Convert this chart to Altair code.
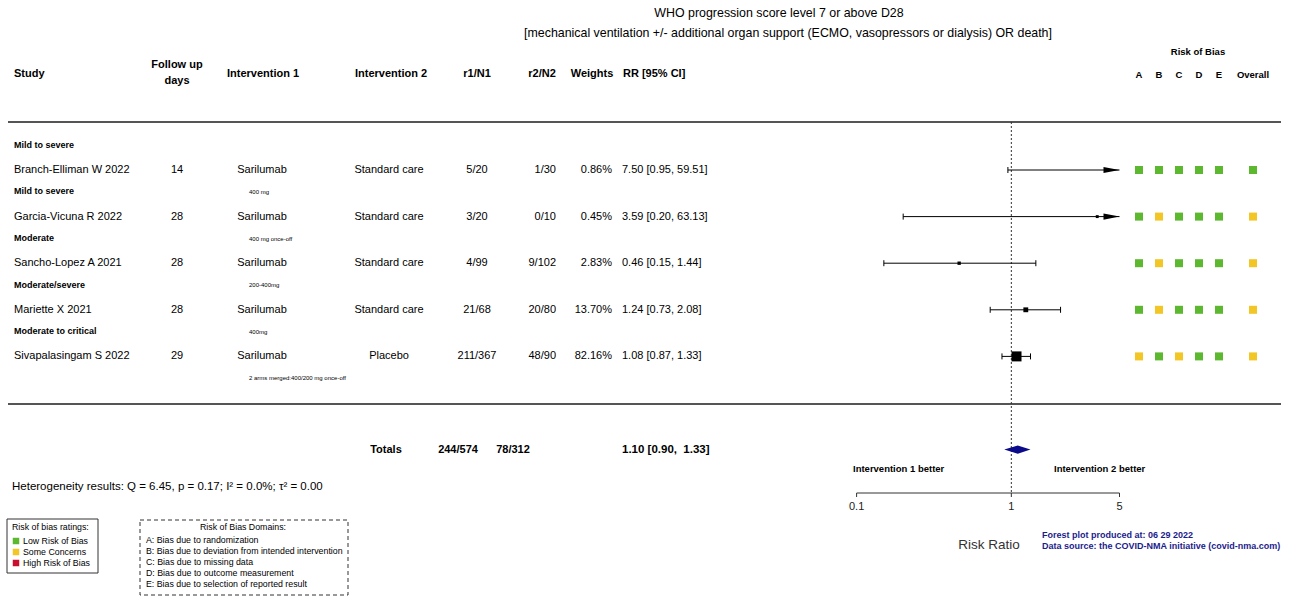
import altair as alt
import pandas as pd

FONT = "Liberation Sans"

# ---- study-level data -------------------------------------------------------
studies = ["Branch-Elliman W 2022", "Garcia-Vicuna R 2022", "Sancho-Lopez A 2021",
           "Mariette X 2021", "Sivapalasingam S 2022"]
severity = ["Mild to severe", "Mild to severe", "Moderate", "Moderate/severe",
            "Moderate to critical"]
follow_up = [14, 28, 28, 28, 29]
intervention1 = ["Sarilumab", "Sarilumab", "Sarilumab", "Sarilumab", "Sarilumab"]
dose = ["400 mg", "400 mg once-off", "200-400mg", "400mg",
        "2 arms merged:400/200 mg once-off"]
intervention2 = ["Standard care", "Standard care", "Standard care", "Standard care", "Placebo"]
r1_n1 = ["5/20", "3/20", "4/99", "21/68", "211/367"]
r2_n2 = ["1/30", "0/10", "9/102", "20/80", "48/90"]
weights = [0.86, 0.45, 2.83, 13.70, 82.16]
rr = [7.50, 3.59, 0.46, 1.24, 1.08]
ci_low = [0.95, 0.20, 0.15, 0.73, 0.87]
ci_high = [59.51, 63.13, 1.44, 2.08, 1.33]

rob_domains = ["A", "B", "C", "D", "E"]
rob_ratings = [
    ["Low", "Low", "Low", "Low", "Low"],
    ["Low", "Some concerns", "Low", "Low", "Low"],
    ["Low", "Some concerns", "Low", "Low", "Low"],
    ["Low", "Some concerns", "Low", "Low", "Low"],
    ["Some concerns", "Low", "Some concerns", "Low", "Low"],
]
rob_overall = ["Low", "Some concerns", "Some concerns", "Some concerns", "Some concerns"]

# pooled result
total_r1 = "244/574"
total_r2 = "78/312"
pooled_rr = 1.10
pooled_low = 0.90
pooled_high = 1.33

axis_ticks = [0.1, 1, 5]
AXIS_MIN, AXIS_MAX = 0.1, 5

rob_levels = ["Low", "Some concerns", "High"]
rob_colors = ["#5cb82e", "#f2c624", "#c8102e"]

# ---- tables -----------------------------------------------------------------
rows = pd.DataFrame({
    "row": list(range(len(studies))),
    "study": studies,
    "severity": severity,
    "follow": [str(v) for v in follow_up],
    "int1": intervention1,
    "dose": dose,
    "int2": intervention2,
    "r1": r1_n1,
    "r2": r2_n2,
    "weight": weights,
    "wlabel": [f"{w:.2f}%" for w in weights],
    "rr": rr,
    "lo": ci_low,
    "hi": ci_high,
    "rrlabel": [f"{e:.2f} [{l:.2f}, {h:.2f}]" for e, l, h in zip(rr, ci_low, ci_high)],
})
rows["hi_shown"] = rows["hi"].clip(upper=AXIS_MAX)
rows["sev_row"] = rows["row"] - 0.54
rows["dose_row"] = rows["row"] + 0.47

rob_long = pd.DataFrame([
    {"row": i, "domain": d, "rating": r}
    for i, ratings in enumerate(rob_ratings)
    for d, r in zip(rob_domains, ratings)
])
rob_over = pd.DataFrame({"row": list(range(len(studies))), "rating": rob_overall})

TOTAL_ROW = 6
DIAMOND_HALF = 0.09
diamond = pd.DataFrame({
    "x": [pooled_low, pooled_rr, pooled_high],
    "top": [TOTAL_ROW, TOTAL_ROW - DIAMOND_HALF, TOTAL_ROW],
    "bottom": [TOTAL_ROW, TOTAL_ROW + DIAMOND_HALF, TOTAL_ROW],
})
totals = pd.DataFrame({
    "row": [TOTAL_ROW],
    "r1": [total_r1], "r2": [total_r2],
    # non-breaking space keeps the double gap before the upper bound
    "label": [f"{pooled_rr:.2f} [{pooled_low:.2f},\u00a0 {pooled_high:.2f}]"],
})
ticks = pd.DataFrame({"t": axis_ticks, "label": [f"{t:g}" for t in axis_ticks]})
one = pd.DataFrame({"k": [0]})

# ---- scales -----------------------------------------------------------------
ysc = alt.Scale(domain=[0, 4], range=[170, 356.4], nice=False, zero=False)
xsc = alt.Scale(type="log", domain=[AXIS_MIN, AXIS_MAX], range=[856.6, 1119.5], nice=False)
Y = lambda f: alt.Y(f"{f}:Q", scale=ysc, axis=None)
X = lambda f: alt.X(f"{f}:Q", scale=xsc, axis=None)


def text_at(data, field, x, yfield, align="left", size=11, weight="normal", color="#000"):
    return alt.Chart(data).mark_text(
        align=align, baseline="middle", font=FONT, fontSize=size,
        fontWeight=weight, color=color
    ).encode(x=alt.value(x), y=Y(yfield), text=f"{field}:N")


def label(txt, x, y, align="left", size=11, weight="normal", color="#000"):
    return alt.Chart(one).mark_text(
        align=align, baseline="middle", font=FONT, fontSize=size,
        fontWeight=weight, color=color, text=txt
    ).encode(x=alt.value(x), y=alt.value(y))


def hrule(y, x1, x2, color="#555", width=2.0):
    return alt.Chart(one).mark_rule(color=color, strokeWidth=width).encode(
        x=alt.value(x1), x2=alt.value(x2), y=alt.value(y))


layers = []

# titles and headers
HDR = 11
layers += [
    label("WHO progression score level 7 or above D28", 779, 13, "center", 12.4),
    label("[mechanical ventilation +/- additional organ support (ECMO, vasopressors or dialysis) OR death]",
          788, 33, "center", 12.4),
    label("Study", 14, 74, size=HDR, weight="bold"),
    label("Follow up", 177, 65, "center", HDR, "bold"),
    label("days", 177, 81, "center", HDR, "bold"),
    label("Intervention 1", 263, 74, "center", HDR, "bold"),
    label("Intervention 2", 391, 74, "center", HDR, "bold"),
    label("r1/N1", 477, 74, "center", HDR, "bold"),
    label("r2/N2", 542, 74, "center", HDR, "bold"),
    label("Weights", 592, 74, "center", HDR, "bold"),
    label("RR [95% CI]", 623, 74, size=HDR, weight="bold"),
    label("Risk of Bias", 1198, 52, "center", 9.5, "bold"),
]
for d, xp in zip(rob_domains + ["Overall"], [1139, 1159, 1179, 1199, 1219, 1253]):
    layers.append(label(d, xp, 75, "center", 9.5, "bold"))

layers += [hrule(122, 8, 1281), hrule(404, 8, 1281)]

# study table
layers += [
    text_at(rows, "severity", 14, "sev_row", size=9, weight="bold"),
    text_at(rows, "study", 14, "row"),
    text_at(rows, "follow", 177, "row", "center"),
    text_at(rows, "int1", 262, "row", "center"),
    text_at(rows, "dose", 249, "dose_row", size=6),
    text_at(rows, "int2", 389, "row", "center"),
    text_at(rows, "r1", 477, "row", "center"),
    text_at(rows, "r2", 556, "row", "right"),
    text_at(rows, "wlabel", 612, "row", "right"),
    text_at(rows, "rrlabel", 622, "row"),
]

# totals
layers += [
    label("Totals", 386, 450, "center", 11, "bold"),
    text_at(totals, "r1", 458, "row", "center", 11, "bold"),
    text_at(totals, "r2", 513, "row", "center", 11, "bold"),
    text_at(totals, "label", 622, "row", size=11.5, weight="bold"),
    label("Heterogeneity results: Q = 6.45, p = 0.17; I² = 0.0%; τ² = 0.00", 12, 487, size=11.5),
]

# forest plot
layers += [
    alt.Chart(one).mark_rule(color="#333", strokeDash=[2, 2], strokeWidth=1).encode(
        x=alt.X("v:Q", scale=xsc, axis=None), y=alt.value(122), y2=alt.value(493)
    ).transform_calculate(v="1"),
    alt.Chart(rows).mark_rule(color="#000", strokeWidth=1).encode(
        x=X("lo"), x2="hi_shown:Q", y=Y("row")),
    alt.Chart(rows).mark_rule(color="#000", strokeWidth=1, yOffset=-3, y2Offset=3).encode(
        x=X("lo"), y=Y("row"), y2="row:Q"),
    alt.Chart(rows).transform_filter(f"datum.hi <= {AXIS_MAX}").mark_rule(
        color="#000", strokeWidth=1, yOffset=-3, y2Offset=3).encode(
        x=X("hi"), y=Y("row"), y2="row:Q"),
    alt.Chart(rows).transform_filter(f"datum.rr <= {AXIS_MAX}").mark_square(
        color="#000", opacity=1).encode(
        x=X("rr"), y=Y("row"),
        size=alt.Size("weight:Q", scale=alt.Scale(domain=[0, 82.16], range=[8, 100]), legend=None)),
    alt.Chart(rows).transform_filter(f"datum.hi > {AXIS_MAX}").mark_point(
        shape="M -1 -0.38 L 1 0 L -1 0.38 Z", size=256, filled=True, color="#000",
        opacity=1, xOffset=-8).encode(
        x=X("hi_shown"), y=Y("row")),
    alt.Chart(diamond).mark_area(color="#0a0a8a", opacity=1).encode(
        x=X("x"), y=Y("top"), y2="bottom:Q"),
    # x axis
    alt.Chart(ticks).mark_rule(color="#333").encode(
        x=alt.X("min(t):Q", scale=xsc, axis=None), x2="max(t):Q", y=alt.value(493)),
    alt.Chart(ticks).mark_rule(color="#333").encode(
        x=X("t"), y=alt.value(493), y2=alt.value(497)),
    alt.Chart(ticks).mark_text(font=FONT, fontSize=11, baseline="middle", color="#222").encode(
        x=X("t"), y=alt.value(507), text="label:N"),
    label("Intervention 1 better", 853, 469, size=9.5, weight="bold"),
    label("Intervention 2 better", 1054, 469, size=9.5, weight="bold"),
    label("Risk Ratio", 989, 545, "center", 13.5, color="#333"),
    label("Forest plot produced at: 06 29 2022", 1042, 535, size=9, weight="bold", color="#1c1c8c"),
    label("Data source: the COVID-NMA initiative (covid-nma.com)", 1042, 546, size=9,
          weight="bold", color="#1c1c8c"),
]

# risk of bias squares
layers += [
    alt.Chart(rob_long).mark_square(size=64, opacity=1).encode(
        x=alt.X("domain:N", scale=alt.Scale(type="point", domain=rob_domains,
                                            range=[1139, 1219], padding=0), axis=None),
        y=Y("row"),
        color=alt.Color("rating:N", scale=alt.Scale(domain=rob_levels, range=rob_colors), legend=None)),
    alt.Chart(rob_over).mark_square(size=64, opacity=1).encode(
        x=alt.value(1253), y=Y("row"),
        color=alt.Color("rating:N", scale=alt.Scale(domain=rob_levels, range=rob_colors), legend=None)),
]

# legend boxes
LEG = 8.8
legend_items = pd.DataFrame({"rating": rob_levels,
                             "name": ["Low Risk of Bias", "Some Concerns", "High Risk of Bias"],
                             "i": [0, 1, 2]})
item_y = alt.Y("i:Q", scale=alt.Scale(domain=[0, 2], range=[541, 563]), axis=None)
layers += [
    alt.Chart(one).mark_rect(fill=None, stroke="#333", strokeWidth=1).encode(
        x=alt.value(7), x2=alt.value(98), y=alt.value(519), y2=alt.value(573)),
    label("Risk of bias ratings:", 12, 527, size=LEG),
    alt.Chart(legend_items).mark_square(size=42, opacity=1).encode(
        x=alt.value(16), y=item_y,
        color=alt.Color("rating:N", scale=alt.Scale(domain=rob_levels, range=rob_colors), legend=None)),
    alt.Chart(legend_items).mark_text(font=FONT, fontSize=LEG, align="left", baseline="middle").encode(
        x=alt.value(23), y=item_y, text="name:N"),
    alt.Chart(one).mark_rect(fill=None, stroke="#333", strokeWidth=1, strokeDash=[4, 3]).encode(
        x=alt.value(140), x2=alt.value(348), y=alt.value(520), y2=alt.value(595)),
    label("Risk of Bias Domains:", 243, 527, "center", LEG),
]
domain_text = pd.DataFrame({
    "i": [0, 1, 2, 3, 4],
    "t": ["A: Bias due to randomization",
          "B: Bias due to deviation from intended intervention",
          "C: Bias due to missing data",
          "D: Bias due to outcome measurement",
          "E: Bias due to selection of reported result"],
})
layers.append(
    alt.Chart(domain_text).mark_text(font=FONT, fontSize=LEG, align="left", baseline="middle").encode(
        x=alt.value(146),
        y=alt.Y("i:Q", scale=alt.Scale(domain=[0, 4], range=[540, 584]), axis=None),
        text="t:N")
)

chart = alt.layer(*layers).resolve_scale(
    x="independent", y="independent", size="independent", color="shared"
).properties(
    width=1293, height=596, padding=0,
    autosize=alt.AutoSizeParams(type="none")
).configure_view(stroke=None)

chart.save("out.html", embed_options={"renderer": "svg", "actions": False})
